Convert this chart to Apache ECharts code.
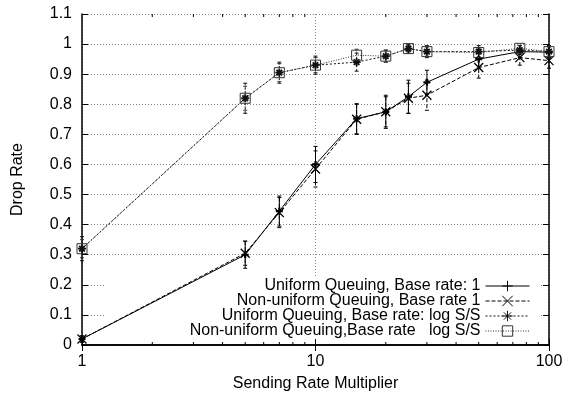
<!DOCTYPE html>
<html>
<head>
<meta charset="utf-8">
<script src="https://cdn.jsdelivr.net/npm/echarts@6/dist/echarts.min.js"></script>
<style>html,body{margin:0;padding:0;background:#fff;}#c{width:566px;height:399px;}</style>
</head>
<body>
<div id="c"></div>
<script>
const multipliers = [1, 5, 7, 10, 15, 20, 25, 30, 50, 75, 100];
const uniformBase1 = [0.02, 0.30, 0.445, 0.60, 0.752, 0.775, 0.825, 0.873, 0.95, 0.975, 0.973];
const nonUniformBase1 = [0.02, 0.305, 0.44, 0.585, 0.75, 0.775, 0.82, 0.83, 0.922, 0.955, 0.945];
const uniformLog = [0.32, 0.82, 0.905, 0.93, 0.94, 0.96, 0.985, 0.975, 0.975, 0.98, 0.975];
const nonUniformLog = [0.32, 0.82, 0.905, 0.93, 0.963, 0.96, 0.985, 0.975, 0.972, 0.986, 0.975];
const errUniformBase1 = [0.01, 0.045, 0.05, 0.06, 0.05, 0.055, 0.055, 0.04, 0.03, 0.02, 0.02];
const errNonUniformBase1 = [0.01, 0.04, 0.05, 0.06, 0.05, 0.05, 0.05, 0.05, 0.035, 0.025, 0.025];
const errUniformLog = [0.04, 0.05, 0.035, 0.03, 0.03, 0.02, 0.015, 0.02, 0.02, 0.015, 0.02];
const errNonUniformLog = [0.03, 0.04, 0.03, 0.025, 0.02, 0.02, 0.01, 0.015, 0.015, 0.01, 0.015];
const minorTicksX = [2, 3, 4, 5, 6, 7, 8, 9, 20, 30, 40, 50, 60, 70, 80, 90];
const seriesNames = [
  'Uniform Queuing, Base rate: 1',
  'Non-uniform Queuing, Base rate 1',
  'Uniform Queuing, Base rate: log S/S',
  'Non-uniform Queuing,Base rate   log S/S'
];

const FONT = 'Liberation Sans, Arial, Helvetica, sans-serif';
const FS = 16;
const plusPath = 'path://M0,5L10,5M5,0L5,10';
const crossPath = 'path://M0,0L10,10M10,0L0,10';
const starPath = 'path://M0,5L10,5M5,0L5,10M1.5,1.5L8.5,8.5M8.5,1.5L1.5,8.5';
const squarePath = 'path://M0,0L10,0L10,10L0,10Z';

const styles = [
  {symbol: plusPath, size: 7, bw: 2.2, dash: 'solid', color: '#000'},
  {symbol: crossPath, size: 9, bw: 1.3, dash: [4, 2], color: '#000'},
  {symbol: starPath, size: 8, bw: 1.8, dash: [2, 2], color: '#111'},
  {symbol: squarePath, size: 10, bw: 1, dash: [1, 1.5], color: '#333'}
];
const values = [uniformBase1, nonUniformBase1, uniformLog, nonUniformLog];
const errs = [errUniformBase1, errNonUniformBase1, errUniformLog, errNonUniformLog];

const series = [];
values.forEach((vals, i) => {
  const st = styles[i];
  series.push({
    name: seriesNames[i],
    type: 'line',
    data: multipliers.map((m, k) => [m, vals[k]]),
    symbol: st.symbol,
    symbolSize: st.size,
    showAllSymbol: true,
    lineStyle: {color: st.color, width: 1, type: st.dash},
    itemStyle: {color: 'rgba(0,0,0,0)', borderColor: st.color, borderWidth: st.bw},
    emphasis: {disabled: true},
    animation: false,
    z: 3
  });
  series.push({
    type: 'custom',
    name: 'err' + i,
    data: multipliers.map((m, k) => [m, vals[k], errs[i][k]]),
    encode: {x: 0, y: 1},
    clip: false,
    silent: true,
    animation: false,
    z: 2,
    renderItem: function (params, api) {
      const x = api.value(0), y = api.value(1), e = api.value(2);
      const t = api.coord([x, y + e]);
      const b = api.coord([x, y - e]);
      const c = 2;
      const s = {stroke: st.color, lineWidth: 1, lineDash: st.dash === 'solid' ? null : st.dash};
      return {type: 'group', children: [
        {type: 'line', shape: {x1: t[0], y1: t[1], x2: b[0], y2: b[1]}, style: s},
        {type: 'line', shape: {x1: t[0] - c, y1: t[1], x2: t[0] + c, y2: t[1]}, style: {stroke: st.color, lineWidth: 1}},
        {type: 'line', shape: {x1: b[0] - c, y1: b[1], x2: b[0] + c, y2: b[1]}, style: {stroke: st.color, lineWidth: 1}}
      ]};
    }
  });
});

series.push({
  type: 'custom',
  name: 'minorTicks',
  data: minorTicksX.map(v => [v, 0]),
  encode: {x: 0, y: 1},
  clip: false,
  silent: true,
  animation: false,
  z: 1,
  renderItem: function (params, api) {
    const v = api.value(0);
    const b = api.coord([v, 0]);
    const t = api.coord([v, 1.1]);
    const s = {stroke: '#000', lineWidth: 1};
    return {type: 'group', children: [
      {type: 'line', shape: {x1: b[0], y1: b[1], x2: b[0], y2: b[1] - 3}, style: s},
      {type: 'line', shape: {x1: t[0], y1: t[1], x2: t[0], y2: t[1] + 3}, style: s}
    ]};
  }
});

const chart = echarts.init(document.getElementById('c'), null, {renderer: 'canvas'});
chart.setOption({
  animation: false,
  backgroundColor: '#fff',
  textStyle: {fontFamily: FONT},
  grid: {left: 82, right: 17, top: 14, bottom: 54, containLabel: false},
  legend: {
    data: seriesNames,
    orient: 'vertical',
    align: 'right',
    right: 26,
    top: 276,
    itemWidth: 44,
    itemHeight: 13,
    itemGap: -1,
    padding: [2, 10, 0, 85],
    backgroundColor: '#fff',
    z: 1,
    selectedMode: false,
    lineStyle: {width: 1},
    itemStyle: {borderWidth: 1},
    textStyle: {fontFamily: FONT, fontSize: FS, color: '#000'}
  },
  xAxis: [
    {
      type: 'log', logBase: 10, min: 1, max: 100,
      name: 'Sending Rate Multiplier', nameLocation: 'middle', nameGap: 31,
      nameTextStyle: {fontFamily: FONT, fontSize: FS, color: '#000'},
      axisLine: {lineStyle: {color: '#000', width: 1.5}},
      axisTick: {inside: true, length: 6, lineStyle: {color: '#000'}},
      axisLabel: {fontFamily: FONT, fontSize: FS, color: '#000', margin: 9},
      splitLine: {show: true, lineStyle: {color: '#888', type: [1, 2], width: 1}},
      minorTick: {show: false}
    },
    {
      type: 'log', logBase: 10, min: 1, max: 100, position: 'top',
      axisLine: {lineStyle: {color: '#000', width: 1.5}},
      axisTick: {inside: true, length: 6, lineStyle: {color: '#000'}},
      axisLabel: {show: false},
      splitLine: {show: false}
    }
  ],
  yAxis: [
    {
      type: 'value', min: 0, max: 1.1, interval: 0.1,
      name: 'Drop Rate', nameLocation: 'middle', nameGap: 56, nameRotate: 90,
      nameTextStyle: {fontFamily: FONT, fontSize: FS, color: '#000'},
      axisLine: {show: true, lineStyle: {color: '#000', width: 1.5}},
      axisTick: {show: true, inside: true, length: 6, lineStyle: {color: '#000'}},
      axisLabel: {fontFamily: FONT, fontSize: FS, color: '#000', margin: 10,
        formatter: v => String(Math.round(v * 10) / 10)},
      splitLine: {show: true, lineStyle: {color: '#888', type: [1, 2], width: 1}}
    },
    {
      type: 'value', min: 0, max: 1.1, interval: 0.1, position: 'right',
      axisLine: {show: true, lineStyle: {color: '#000', width: 1.5}},
      axisTick: {show: true, inside: true, length: 6, lineStyle: {color: '#000'}},
      axisLabel: {show: false},
      splitLine: {show: false}
    }
  ],
  series: series
});
</script>
</body>
</html>
